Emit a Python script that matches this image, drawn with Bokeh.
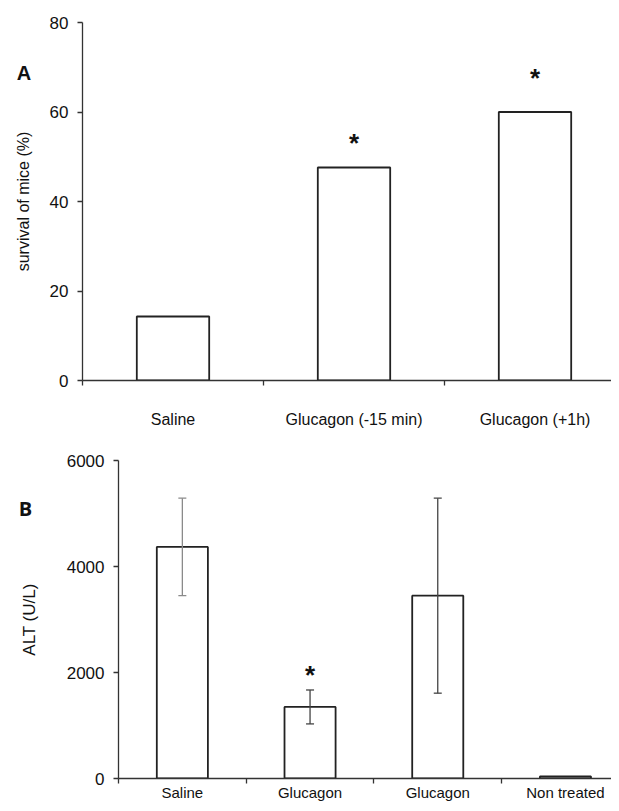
from bokeh.plotting import figure
from bokeh.models import Range1d, FixedTicker, Whisker, ColumnDataSource, TeeHead
from bokeh.embed import file_html
from bokeh.resources import INLINE
from bokeh.core.properties import value

# ---- data ----
cats_a = ["Saline", "Glucagon (-15 min)", "Glucagon (+1h)"]
survival = [14.3, 47.6, 60.0]
stars_a = ["", "*", "*"]
star_a_y = [0, 54.5, 69]
ticks_a = [0, 20, 40, 60, 80]

cats_b = ["Saline", "Glucagon", "Glucagon", "Non treated"]
alt = [4370, 1350, 3450, 40]
alt_err = [920, 320, 1840, 0]
err_colors = ["#8a8a8a", "#444444", "#444444", "#444444"]
stars_b = ["", "*", "", ""]
star_b_y = [0, 2060, 0, 0]
ticks_b = [0, 2000, 4000, 6000]

AX = "#333333"
FONT = "Liberation Sans"


def style(p, cats, yticks):
    p.outline_line_color = None
    p.grid.grid_line_color = None
    n = len(cats)
    centers = [i + 0.5 for i in range(n)]
    xa = p.xaxis[0]
    xa.ticker = FixedTicker(ticks=centers, minor_ticks=list(range(n + 1)))
    xa.major_label_overrides = {c: lab for c, lab in zip(centers, cats)}
    xa.major_tick_line_color = None
    xa.major_tick_out = 0
    xa.major_tick_in = 0
    xa.minor_tick_line_color = AX
    xa.minor_tick_out = 5
    xa.minor_tick_in = 0
    xa.minor_tick_line_width = 1.3
    xa.axis_line_color = AX
    xa.axis_line_width = 1.3
    xa.major_label_text_font = FONT
    xa.major_label_text_font_size = "16px"
    xa.major_label_text_color = "#111111"
    ya = p.yaxis[0]
    ya.ticker = FixedTicker(ticks=yticks)
    ya.major_tick_out = 5
    ya.major_tick_in = 0
    ya.major_tick_line_color = AX
    ya.major_tick_line_width = 1.3
    ya.minor_tick_line_color = None
    ya.axis_line_color = AX
    ya.axis_line_width = 1.3
    ya.major_label_text_font = FONT
    ya.major_label_text_font_size = "17px"
    ya.major_label_text_color = "#111111"
    ya.major_label_standoff = 9
    ya.axis_label_text_font = FONT
    ya.axis_label_text_font_style = "normal"
    ya.axis_label_text_color = "#111111"
    return centers


def stars(p, centers, marks, ys):
    src = ColumnDataSource(dict(x=[c for c, s in zip(centers, marks) if s],
                                y=[y for y, s in zip(ys, marks) if s],
                                t=[s for s in marks if s]))
    p.text(x="x", y="y", text="t", source=src, text_align="center", text_baseline="middle",
           text_font=value(FONT), text_font_style="bold", text_font_size="26px", y_offset=6,
           text_color="#111111")


# ---- panel A ----
p1 = figure(width=611, height=430, x_range=Range1d(0, 529 / 181), y_range=Range1d(0, 80),
            output_backend="svg", toolbar_location=None,
            min_border_left=82, min_border_right=0, min_border_top=22, min_border_bottom=47)
xa_c = style(p1, cats_a, ticks_a)
p1.xaxis[0].major_label_standoff = 25
p1.yaxis[0].axis_label = "survival of mice (%)"
p1.yaxis[0].axis_label_text_font_size = "16px"
p1.yaxis[0].axis_label_standoff = 15
p1.vbar(x=xa_c, top=survival, width=0.4, bottom=0, fill_color="white",
        line_color="#222222", line_width=1.8)
stars(p1, xa_c, stars_a, star_a_y)
p1.text(x=[-0.323], y=[68.8], text=["A"], text_align="center", text_baseline="middle",
        text_font=value(FONT), text_font_style="bold", text_font_size="20px",
        text_color="#111111", level="overlay")

# ---- panel B ----
p2 = figure(width=611, height=373, x_range=Range1d(0, 493 / 127.7), y_range=Range1d(0, 6000),
            output_backend="svg", toolbar_location=None,
            min_border_left=118, min_border_right=0, min_border_top=30, min_border_bottom=23)
xb_c = style(p2, cats_b, ticks_b)
p2.xaxis[0].major_label_standoff = 0
p2.xaxis[0].major_label_text_font_size = "15px"
p2.yaxis[0].axis_label = "ALT (U/L)"
p2.yaxis[0].axis_label_text_font_size = "17px"
p2.yaxis[0].axis_label_standoff = 25
p2.vbar(x=xb_c, top=alt, width=0.4, bottom=0, fill_color="white",
        line_color="#222222", line_width=1.8)
for xc, v, e, col in zip(xb_c, alt, alt_err, err_colors):
    if e <= 0:
        continue
    s = ColumnDataSource(dict(x=[xc], lo=[v - e], hi=[v + e]))
    p2.add_layout(Whisker(source=s, base="x", lower="lo", upper="hi", line_color=col,
                          line_width=1.3, level="overlay",
                          upper_head=TeeHead(size=8, line_color=col, line_width=1.3),
                          lower_head=TeeHead(size=8, line_color=col, line_width=1.3)))
stars(p2, xb_c, stars_b, star_b_y)
p2.text(x=[-0.728], y=[5101], text=["B"], text_align="center", text_baseline="middle",
        text_font=value("Open Sans"), text_font_style="bold", text_font_size="20px",
        text_color="#111111", level="overlay")

open("out.html", "w").write(file_html([p1, p2], INLINE))
